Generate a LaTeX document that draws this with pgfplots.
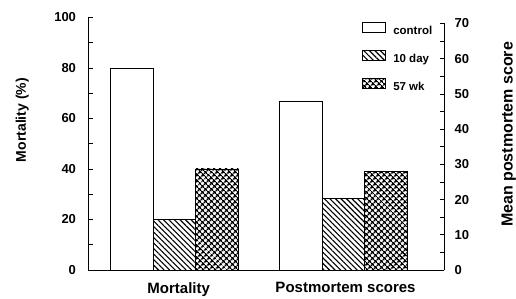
\documentclass[border=0pt]{standalone}
\usepackage{fontspec}
\setmainfont{Liberation Sans}
\usepackage{pgfplots}
\pgfplotsset{compat=1.18}
\usetikzlibrary{patterns.meta}
\newcommand{\fs}[1]{\fontsize{#1}{#1}\selectfont\bfseries}
\tikzset{
  tenday/.style={pattern={Lines[angle=-45,distance=3.9pt,line width=1.1pt]}},
  fiftyseven/.style={pattern={Hatch[angle=45,distance=4pt,line width=1.4pt]}},
}
\begin{document}
\begin{tikzpicture}
\pgfplotsset{
  common/.style={
    scale only axis, width=356pt,
    xmin=-0.5118, xmax=1.5947, ymin=0,
    at={(88pt,29pt)}, anchor=south west,
    tick align=inside, major tick length=4.5pt, minor tick length=4.5pt,
    tick style={black, line width=0.8pt},
    axis line style={line width=0.9pt},
    /pgf/number format/assume math mode=true,
    ticklabel style={font=\fs{13}},
    bar width=0.2515,
    clip=false,
  }
}
\begin{axis}[common, height=252.5pt, ymax=100,
  axis x line*=bottom, axis y line*=left,
  ytick={0,20,...,100}, minor ytick={10,30,...,90},
  xtick={0.025,1.012}, xticklabels={Mortality, Postmortem scores},
  xticklabel style={font=\fs{15}, yshift=-9pt},
  major x tick style={draw=none},
  yticklabel style={xshift=-8.5pt},
  every axis y label/.style={at={(axis description cs:-0.185,0.594)}, rotate=90, anchor=center, font=\fs{14}},
  ylabel={Mortality (\%)},
  legend cell align=left,
  legend image code/.code={\draw[#1,line width=0.8pt] (0pt,-1pt) rectangle (23pt,8.5pt);},
  legend style={draw=none, fill=none, inner sep=0pt, at={(axis description cs:0.769,0.981)}, anchor=north west,
    nodes={inner sep=0pt, font=\fs{11.5}}, column sep=7.5pt, row sep=14pt},
]
\addplot[ybar, draw=black, line width=0.8pt, fill=white, bar shift=-0.2515] coordinates {(0,80)};
\addplot[ybar, draw=black, line width=0.8pt, tenday, bar shift=0] coordinates {(0,20)};
\addplot[ybar, draw=black, line width=0.8pt, fiftyseven, bar shift=0.2515] coordinates {(0,40)};
\legend{control, 10 day, 57 wk}
\end{axis}
\begin{axis}[common, height=246.5pt, ymax=70,
  axis x line=none, axis y line*=right,
  ytick={0,10,...,70}, minor ytick={5,15,...,65},
  yticklabel style={xshift=7pt},
  every axis y label/.style={at={(axis description cs:1.1924,0.55)}, rotate=90, anchor=base, font=\fs{16}},
  ylabel={Mean postmortem score},
]
\addplot[ybar, draw=black, line width=0.8pt, fill=white, bar shift=-0.2515] coordinates {(1,48)};
\addplot[ybar, draw=black, line width=0.8pt, tenday, bar shift=0] coordinates {(1,20.4)};
\addplot[ybar, draw=black, line width=0.8pt, fiftyseven, bar shift=0.2515] coordinates {(1,28)};
\end{axis}
\pgfresetboundingbox
\path[use as bounding box] (0,0) rectangle (516pt,299pt);
\end{tikzpicture}
\end{document}
